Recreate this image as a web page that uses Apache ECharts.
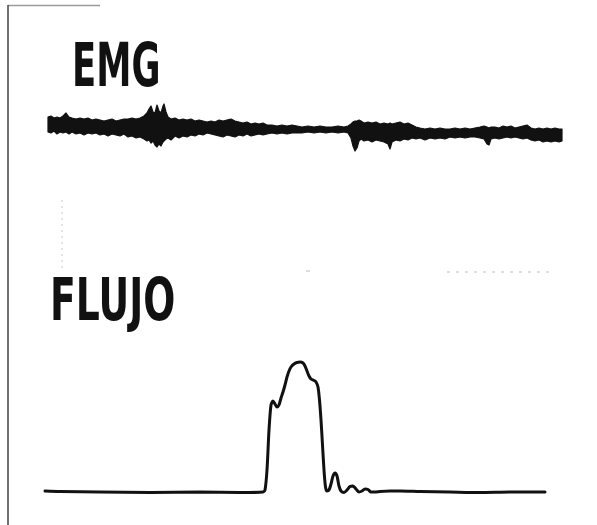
<!DOCTYPE html>
<html>
<head>
<meta charset="utf-8">
<script src="https://cdn.jsdelivr.net/npm/echarts@6/dist/echarts.min.js"></script>
<style>
html,body{margin:0;padding:0;background:#fff;}
#chart{width:597px;height:525px;}
</style>
</head>
<body>
<div id="chart"></div>
<script>
// ---- EMG envelope (time in ms, amplitude in µV) ----
var emgTime = [30,60,90,120,150,180,210,240,270,310,350,390,430,470,510,550,590,630,670,710,750,790,830,870,910,950,990,1020,1040,1060,1080,1100,1120,1140,1160,1180,1190,1210,1230,1260,1300,1340,1380,1420,1460,1500,1540,1580,1620,1660,1700,1740,1780,1820,1860,1900,1940,1980,2020,2060,2100,2140,2180,2220,2270,2320,2370,2420,2470,2520,2570,2630,2690,2750,2810,2870,2930,2990,3030,3060,3080,3100,3120,3140,3160,3190,3230,3270,3310,3350,3390,3430,3450,3470,3510,3550,3590,3630,3670,3710,3750,3800,3850,3900,3950,4000,4050,4100,4150,4200,4250,4300,4350,4390,4420,4440,4460,4500,4540,4580,4620,4660,4700,4740,4780,4820,4860,4900,4940,4980,5020,5060,5100,5140,5170];
var emgUpper = [130,140,120,130,120,140,170,130,120,110,120,110,120,100,110,100,90,100,110,90,100,110,110,120,110,120,140,170,210,240,180,170,250,190,170,240,260,180,130,110,120,100,110,100,110,90,100,90,80,90,80,100,90,100,110,90,80,70,80,60,70,60,70,50,50,40,50,40,50,40,30,40,30,40,30,30,40,30,40,60,80,90,90,100,90,70,80,70,80,60,70,60,70,60,70,80,60,70,50,30,20,10,20,10,20,10,10,20,10,20,10,20,30,40,30,20,30,30,20,40,30,40,20,30,40,50,20,10,20,10,20,10,20,10,10];
var emgLower = [-20,-30,-10,-40,-20,-30,-20,-40,-20,-40,-30,-50,-30,-40,-30,-50,-40,-60,-40,-50,-60,-40,-70,-60,-80,-70,-90,-110,-100,-130,-110,-150,-170,-140,-160,-120,-110,-90,-80,-100,-60,-80,-60,-70,-50,-60,-40,-50,-30,-40,-50,-60,-70,-50,-60,-70,-50,-60,-40,-60,-50,-40,-50,-40,-30,-40,-30,-40,-30,-30,-30,-20,-30,-20,-30,-20,-30,-20,-30,-80,-160,-210,-180,-110,-90,-110,-100,-120,-100,-110,-120,-140,-190,-120,-100,-110,-90,-100,-80,-90,-80,-100,-80,-90,-80,-90,-70,-80,-70,-80,-70,-70,-80,-90,-140,-150,-90,-80,-90,-80,-70,-80,-70,-80,-90,-80,-100,-110,-100,-120,-110,-120,-110,-120,-110];

// ---- Flow trace (time in ms, flow in mL/s) ----
var flowTime = [0,150,550,1050,1550,1950,2180,2200,2220,2240,2260,2280,2300,2320,2340,2360,2380,2400,2420,2440,2460,2490,2520,2550,2580,2600,2620,2640,2660,2690,2710,2730,2745,2760,2775,2790,2805,2820,2840,2860,2880,2900,2920,2940,2960,2990,3020,3050,3080,3110,3140,3170,3200,3230,3260,3300,3350,3450,3550,3750,4050,4350,4650,5000];
var flowValue = [0.2,0.1,0,-0.1,0,-0.1,0,0.4,4.4,12.4,17.4,18.2,17.6,17.0,17.4,18.8,20.0,21.4,23.0,24.2,25.0,25.6,25.9,26.0,25.8,25.2,24.2,23.2,22.6,22.3,22.0,21.0,18.4,14.4,9.4,4.4,1.0,0.2,0.4,1.6,3.2,3.8,3.2,1.2,0.2,-0.1,0.4,1.1,1.2,0.6,0,0.2,0.6,0.5,0,0,0.1,0.2,0.2,0.1,0,-0.1,0,0];

// ---- Labels ----
var labelEMG = 'EMG';
var labelFlow = 'FLUJO';

var chart = echarts.init(document.getElementById('chart'), null, {renderer: 'canvas'});

var flowData = flowTime.map(function (t, i) { return [t, flowValue[i]]; });

var option = {
  backgroundColor: '#ffffff',
  animation: false,
  grid: [
    {left: 45, width: 518, top: 95, height: 70},
    {left: 45, width: 518, top: 350, height: 150}
  ],
  xAxis: [
    {gridIndex: 0, type: 'value', min: 0, max: 5180, show: false},
    {gridIndex: 1, type: 'value', min: 0, max: 5180, show: false}
  ],
  yAxis: [
    {gridIndex: 0, type: 'value', min: -350, max: 350, show: false},
    {gridIndex: 1, type: 'value', min: -1.6, max: 28.4, show: false}
  ],
  series: [
    {
      name: 'EMG',
      type: 'custom',
      xAxisIndex: 0,
      yAxisIndex: 0,
      clip: false,
      data: [[emgTime[0], 0]],
      renderItem: function (params, api) {
        var pts = [];
        for (var i = 0; i < emgTime.length; i++) pts.push(api.coord([emgTime[i], emgUpper[i]]));
        for (var j = emgTime.length - 1; j >= 0; j--) pts.push(api.coord([emgTime[j], emgLower[j]]));
        return {
          type: 'polygon',
          shape: {points: pts},
          style: {fill: '#111', stroke: '#111', lineWidth: 1.2, lineJoin: 'round'}
        };
      }
    },
    {
      name: 'FLUJO',
      type: 'line',
      xAxisIndex: 1,
      yAxisIndex: 1,
      data: flowData,
      showSymbol: false,
      smooth: 0.25,
      clip: false,
      lineStyle: {color: '#111', width: 3, cap: 'round', join: 'round'}
    }
  ],
  graphic: [
    {type: 'line', shape: {x1: 8, y1: 5.5, x2: 100, y2: 5.5}, style: {stroke: '#9a9a9a', lineWidth: 1.5}},
    {type: 'line', shape: {x1: 8, y1: 5, x2: 8, y2: 525}, style: {stroke: '#444', lineWidth: 1.5}},
    {type: 'line', shape: {x1: 62, y1: 200, x2: 62, y2: 272}, style: {stroke: '#c8c8c8', lineWidth: 1, lineDash: [2, 4]}},
    {type: 'line', shape: {x1: 447, y1: 272, x2: 552, y2: 272}, style: {stroke: '#bdbdbd', lineWidth: 1, lineDash: [3, 6]}},
    {type: 'line', shape: {x1: 306, y1: 271, x2: 310, y2: 271}, style: {stroke: '#bdbdbd', lineWidth: 1}},
    {
      type: 'text', x: 72, y: 70, scaleX: 0.59, scaleY: 1,
      style: {text: labelEMG, fontFamily: 'DejaVu Sans', fontWeight: 'bold', fontSize: 60, fill: '#111', align: 'left', verticalAlign: 'middle'}
    },
    {
      type: 'text', x: 50, y: 305, scaleX: 0.64, scaleY: 1,
      style: {text: labelFlow, fontFamily: 'DejaVu Sans', fontWeight: 'bold', fontSize: 59, fill: '#111', align: 'left', verticalAlign: 'middle'}
    }
  ]
};
chart.setOption(option);
</script>
</body>
</html>
